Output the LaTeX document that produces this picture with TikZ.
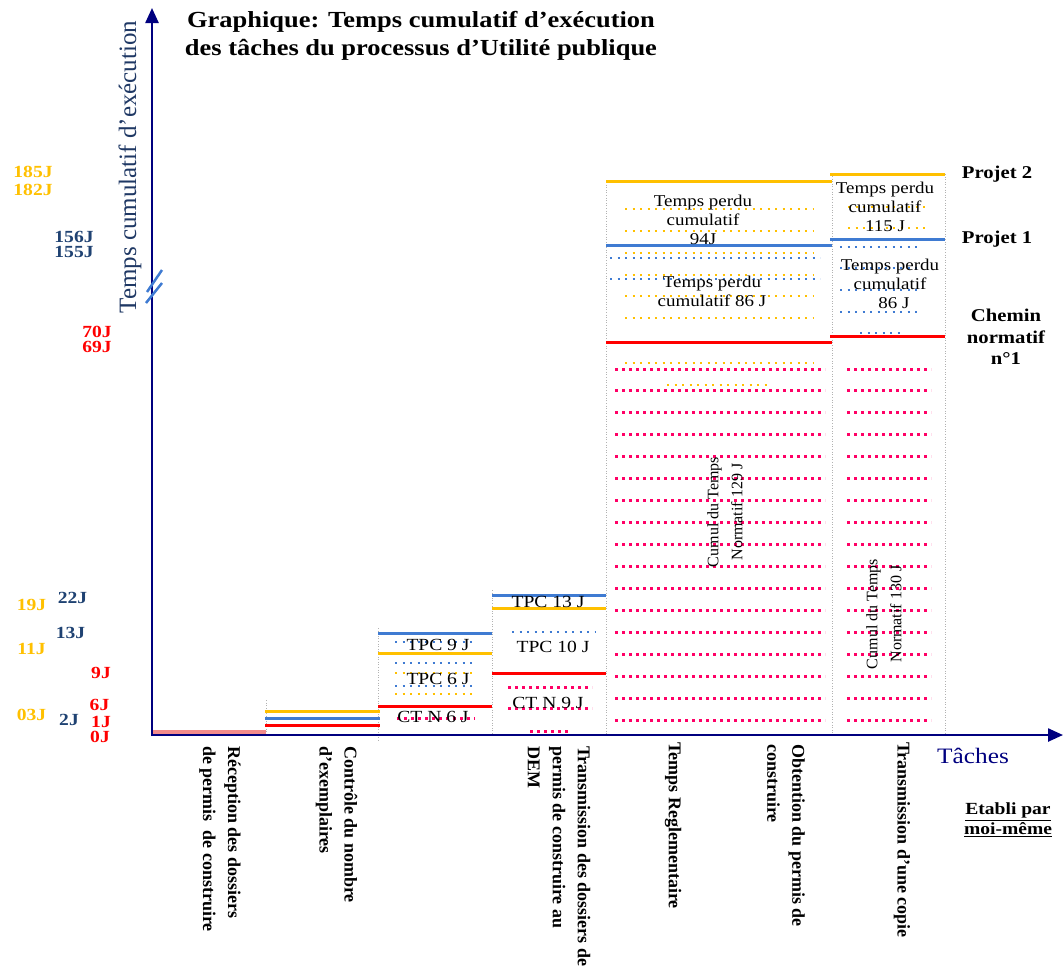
\documentclass[tikz,border=0pt]{standalone}
\usepackage{fontspec}
\setmainfont{Liberation Serif}
\newfontfamily\widefont[FakeStretch=1.15]{Liberation Serif}
\usetikzlibrary{arrows.meta}

\definecolor{axisblue}{HTML}{00007F}
\definecolor{gold}{HTML}{FFC000}
\definecolor{pblue}{HTML}{3F7BD2}
\definecolor{pred}{HTML}{FF0000}
\definecolor{dotpink}{HTML}{FF0066}
\definecolor{darkval}{HTML}{1F4272}
\definecolor{ylab}{HTML}{1F3864}
\definecolor{salmon}{HTML}{F28B8B}

\begin{document}
\begin{tikzpicture}[x=1pt,y=-1pt,
  axis/.style={axisblue, line width=2.4pt, -{Triangle[length=15pt,width=13pt]}},
  level/.style={line width=3pt},
  dotrow/.style={line width=2pt, dash pattern=on 2pt off 5.5pt},
  pinkrow/.style={dotpink, line width=3pt, dash pattern=on 3pt off 4pt},
  colsep/.style={gray!60, line width=0.7pt, dash pattern=on 0.8pt off 1.8pt},
  val/.style={inner sep=0pt, text height=11pt, text depth=0pt, font=\widefont\bfseries\fontsize{17}{17}\selectfont},
  inbox/.style={inner sep=0pt, align=center, font=\widefont\fontsize{17}{19}\selectfont},
  lost/.style={inner sep=0pt, align=center, font=\widefont\fontsize{16.5}{19}\selectfont},
  cumul/.style={inner sep=0pt, align=center, rotate=90, font=\fontsize{16}{24}\selectfont},
  task/.style={inner sep=0pt, align=left, rotate=-90, anchor=west, font=\bfseries\fontsize{18}{25}\selectfont},
  legendlab/.style={inner sep=0pt, align=center, font=\widefont\bfseries\fontsize{18}{21.5}\selectfont}
]
\useasboundingbox (0,0) rectangle (1064,969);

% title
\node[inner sep=0pt, align=center, font=\widefont\bfseries\fontsize{23}{28}\selectfont] (title) at (421,36)
  {Graphique: Temps cumulatif d’exécution\\des tâches du processus d’Utilité publique};

% column separators
\draw[colsep] (266,700) -- (266,734);
\draw[colsep] (378,628) -- (378,740);
\draw[colsep] (492,590) -- (492,734);
\draw[colsep] (606,182) -- (606,734);
\draw[colsep] (832,176) -- (832,734);
\draw[colsep] (945,174) -- (945,734);

% column 1
\draw[salmon, line width=3.5pt] (153,732) -- (266,732);

% column 2
\draw[level, gold]  (265,711) -- (380,711);
\draw[level, pblue] (265,718) -- (380,718);
\draw[level, pred]  (265,725) -- (380,725);

% column 3
\draw[dotrow, pblue] (395,642) -- (477,642);
\draw[dotrow, pblue] (395,663) -- (477,663);
\draw[dotrow, gold]  (395,673) -- (477,673);
\draw[dotrow, pblue] (395,686) -- (477,686);
\draw[dotrow, gold]  (395,694) -- (477,694);
\draw[pinkrow] (397,718) -- (475,718);
\draw[level, pblue] (378,633) -- (492,633);
\draw[level, gold]  (378,653) -- (492,653);
\draw[level, pred]  (378,706) -- (492,706);
\node[inbox] (tpc9) at (438,645) {TPC 9 J};
\node[inbox] (tpc6) at (438,679) {TPC 6 J};
\node[inbox] (ctn6) at (433,717) {CT N 6 J};

% column 4
\draw[dotrow, pblue] (512,632) -- (595,632);
\draw[pinkrow] (508,687) -- (592,687);
\draw[pinkrow] (508,708) -- (592,708);
\draw[pinkrow] (530,731) -- (570,731);
\draw[level, pblue] (492,595) -- (606,595);
\draw[level, gold]  (492,608) -- (606,608);
\draw[level, pred]  (492,673) -- (606,673);
\node[inbox] (tpc13) at (548,602) {TPC 13 J};
\node[inbox] (tpc10) at (553,647) {TPC 10 J};
\node[inbox] (ctn9) at (548,703) {CT N 9 J};

% column 5
\foreach \yy in {209,231,253,275,296,318,342,363}
  \draw[dotrow, gold] (625,\yy) -- (814,\yy);
\draw[dotrow, gold] (667,385) -- (770,385);
\draw[dotrow, pblue] (610,258) -- (820,258);
\draw[dotrow, pblue] (610,279) -- (820,279);
\foreach \k in {0,...,16}
  \draw[pinkrow] (615,369+\k*21.94) -- (825,369+\k*21.94);
\draw[level, gold]  (606,181) -- (832,181);
\draw[level, pblue] (606,245) -- (832,245);
\draw[level, pred]  (606,342) -- (832,342);
\node[lost] (lost94) at (703,220) {Temps perdu\\cumulatif\\94J};
\node[lost] (lost86a) at (712,291) {Temps perdu\\cumulatif 86 J};
\node[cumul] (norm129) at (725,512) {Cumul du Temps\\Normatif 129 J};

% column 6
\draw[dotrow, gold] (848,207) -- (930,207);
\draw[dotrow, gold] (848,228) -- (930,228);
\foreach \yy in {247,268,290,312}
  \draw[dotrow, pblue] (840,\yy) -- (922,\yy);
\draw[dotrow, pblue] (860,333) -- (900,333);
\foreach \k in {0,...,16}
  \draw[pinkrow] (847,369+\k*21.94) -- (931,369+\k*21.94);
\draw[level, gold]  (830,174) -- (945,174);
\draw[level, pblue] (830,239) -- (945,239);
\draw[level, pred]  (830,336) -- (945,336);
\node[lost] (lost115) at (885,207) {Temps perdu\\cumulatif\\115 J};
\node[lost] (lost86b) at (890,284) {Temps perdu\\cumulatif\\\hspace*{8pt}86 J};
\node[cumul] (norm130) at (884,614) {Cumul du Temps\\Normatif 130 J};

% axes
\draw[axis] (152,736) -- (152,8);
\draw[axis] (151,735) -- (1063,735);
\draw[pblue, line width=2.5pt] (147,292) -- (162,270);
\draw[pblue, line width=2.5pt] (146,303) -- (162,283);

\node[inner sep=0pt, rotate=90, text=ylab, font=\fontsize{25}{25}\selectfont] (ylabel) at (130,167)
  {Temps cumulatif d’exécution};
\node[inner sep=0pt, text=axisblue, font=\widefont\fontsize{22}{22}\selectfont] (xlabel) at (973,756) {Tâches};

% value labels
\node[val, gold] (v185) at (33,171.5) {185J};
\node[val, gold] (v182) at (33,189.5) {182J};
\node[val, gold] (v19) at (31.5,605) {19J};
\node[val, gold] (v11) at (31.5,649) {11J};
\node[val, gold] (v03) at (31.5,715) {03J};
\node[val, darkval] (v156) at (74,236.5) {156J};
\node[val, darkval] (v155) at (74,251.5) {155J};
\node[val, darkval] (v22) at (72.5,598) {22J};
\node[val, darkval] (v13) at (70.5,633) {13J};
\node[val, darkval] (v2) at (69,720) {2J};
\node[val, pred] (v70) at (97,331.5) {70J};
\node[val, pred] (v69) at (97,346.5) {69J};
\node[val, pred] (v9) at (101,673) {9J};
\node[val, pred] (v6) at (99.5,705) {6J};
\node[val, pred] (v1) at (101,721.5) {1J};
\node[val, pred] (v0) at (100,736.5) {0J};

% legend
\node[legendlab] (proj2) at (997,174) {Projet 2};
\node[legendlab] (proj1) at (997,239) {Projet 1};
\node[legendlab] (chemin) at (1006,337) {Chemin\\normatif\\n°1};

% task names
\node[task] (t1) at (220,746) {Réception des dossiers\\de permis\ \ de construire};
\node[task] (t2) at (336.5,746) {Contrôle du nombre\\d’exemplaires};
\node[task] (t3) at (559,746) {Transmission des dossiers de\\permis de construire au\\DEM};
\node[task] (t4) at (673,742) {Temps Reglementaire};
\node[task] (t5) at (786,744) {Obtention du permis de\\construire};
\node[task] (t6) at (902,742) {Transmission d’une copie};

\node[inner sep=0pt, align=center, font=\widefont\bfseries\fontsize{17}{20}\selectfont] (src) at (1008,820)
  {\underline{Etabli par}\\\underline{moi-même}};
\end{tikzpicture}
\end{document}
